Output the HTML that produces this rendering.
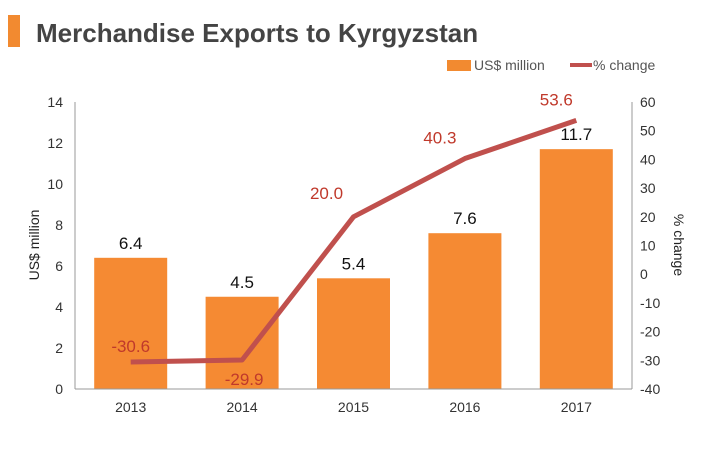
<!DOCTYPE html>
<html><head><meta charset="utf-8"><style>
body{margin:0;background:#fff;width:711px;height:450px;overflow:hidden;font-family:"Liberation Sans",sans-serif}
</style></head><body>
<svg width="711" height="450" font-family="Liberation Sans, sans-serif">
<rect x="8" y="15" width="12" height="32" fill="#f28a30"/>
<text x="36" y="42" font-size="26" font-weight="bold" fill="#444">Merchandise Exports to Kyrgyzstan</text>
<g>
<rect x="447" y="60" width="24" height="11" fill="#f28a30"/>
<text x="474" y="70" font-size="14" fill="#555">US$ million</text>
<line x1="570" y1="65" x2="592" y2="65" stroke="#c0504d" stroke-width="4"/>
<text x="593" y="70" font-size="14" fill="#555">% change</text>
</g>
<g id="plot"></g>
<text transform="translate(39,245) rotate(-90)" text-anchor="middle" font-size="14" fill="#222">US$ million</text>
<text transform="translate(674,245) rotate(90)" text-anchor="middle" font-size="14" fill="#222">% change</text>
</svg>
<script>
const categories=["2013","2014","2015","2016","2017"];
const exportsValues=[6.4,4.5,5.4,7.6,11.7];
const changeValues=[-30.6,-29.9,20.0,40.3,53.6];
const leftTicks=[0,2,4,6,8,10,12,14];
const rightTicks=[-40,-30,-20,-10,0,10,20,30,40,50,60];
const NS="http://www.w3.org/2000/svg";
const g=document.getElementById('plot');
const X0=75,X1=632,YT=102,YB=389;
const bw=(X1-X0)/categories.length;
const xc=i=>X0+bw*(i+0.5);
const yl=v=>YB-(v-0)/(14-0)*(YB-YT);
const yr=v=>YB-(v+40)/(100)*(YB-YT);
function mk(t,a){const e=document.createElementNS(NS,t);for(const k in a)e.setAttribute(k,a[k]);g.appendChild(e);return e;}
let e;
e=mk('line',{x1:X0,y1:YT,x2:X0,y2:YB,stroke:'#999'});


e=mk('line',{x1:X1,y1:YT,x2:X1,y2:YB,stroke:'#999'});


leftTicks.forEach(v=>{e=mk('text',{x:X0-12,y:yl(v)+5,'text-anchor':'end','font-size':14,fill:'#333'});e.textContent=v;

});
rightTicks.forEach(v=>{e=mk('text',{x:X1+8,y:yr(v)+5,'font-size':14,fill:'#333'});e.textContent=v;

});
categories.forEach((c,i)=>{
 const v=exportsValues[i];
 e=mk('rect',{x:xc(i)-36.5,y:yl(v),width:73,height:YB-yl(v),fill:'#f58a33'});
 
 
 e=mk('text',{x:xc(i),y:yl(v)-9,'text-anchor':'middle','font-size':17,fill:'#111'});e.textContent=v.toFixed(1);
 
 
 e=mk('text',{x:xc(i),y:YB+23,'text-anchor':'middle','font-size':14,fill:'#333'});e.textContent=c;
 
 
});
e=mk('line',{x1:X0,y1:YB,x2:X1,y2:YB,stroke:'#999'});


e=mk('polyline',{points:changeValues.map((v,i)=>xc(i)+','+yr(v)).join(' '),fill:'none',stroke:'#c0504d','stroke-width':5,'stroke-linejoin':'round'});


changeValues.forEach((v,i)=>{
 const below=i===1;
 e=mk('text',{x:xc(i)+(i==0?0:i==1?2:i==2?-27:i==3?-25:-20),y:below?yr(v)+25:yr(v)-(i==0?10:i==2?18:15),'text-anchor':'middle','font-size':17,fill:'#c0392b'});e.textContent=v.toFixed(1);
 
 
});
</script>
</body></html>
